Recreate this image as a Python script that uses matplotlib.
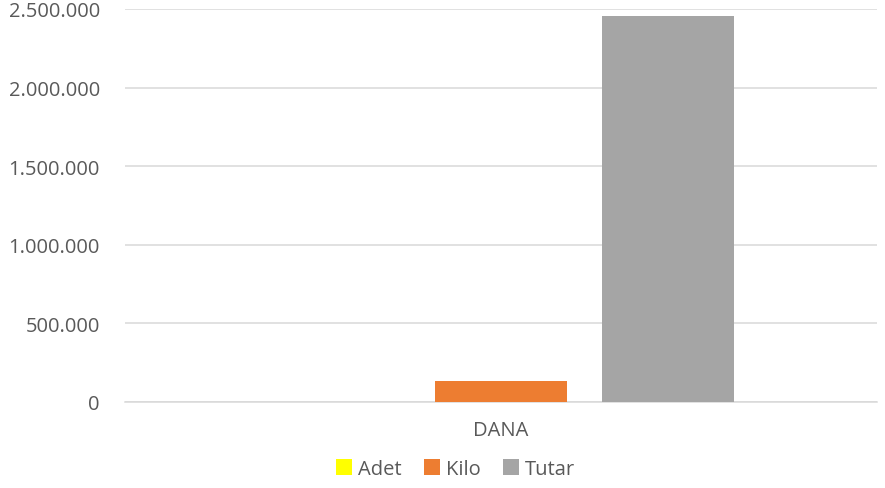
import matplotlib.pyplot as plt
from matplotlib.ticker import FuncFormatter
import numpy as np

plt.rcParams['font.family'] = ['Open Sans', 'DejaVu Sans']

categories = ['DANA']
series = ['Adet', 'Kilo', 'Tutar']
values = [1500, 134000, 2455000]
colors = ['#ffff00', '#ed7d31', '#a5a5a5']

fig = plt.figure(figsize=(8.85, 4.89), dpi=100)
ax = fig.add_axes([0.1412, 0.1759, 0.8498, 0.8037])

x = np.arange(len(categories))
w = 0.1755
step = 0.222
for i, (name, v, c) in enumerate(zip(series, values, colors)):
    ax.bar(x + (i - 1) * step, [v], width=w, color=c, label=name, zorder=3)

ax.set_xlim(-0.5, 0.5)
ax.set_ylim(0, 2500000)
ax.set_yticks(np.arange(0, 2500001, 500000))
ax.yaxis.set_major_formatter(FuncFormatter(lambda v, p: f'{int(v):,}'.replace(',', '.')))
ax.set_xticks(x)
ax.set_xticklabels(categories)
ax.grid(axis='y', color='#d9d9d9', linewidth=1.1, zorder=0)
for s in ['top', 'right', 'left']:
    ax.spines[s].set_visible(False)
ax.spines['bottom'].set_color('#d9d9d9')
ax.spines['bottom'].set_linewidth(1.1)
ax.tick_params(axis='both', length=0, labelsize=14.5, colors='#595959')
ax.tick_params(axis='y', pad=18)
ax.tick_params(axis='x', pad=13)

leg = fig.legend(loc='center', bbox_to_anchor=(0.515, 0.039), ncol=3, frameon=False,
                 fontsize=14.5, handlelength=0.8, handleheight=0.8, handletextpad=0.3,
                 columnspacing=1.1)
for t in leg.get_texts():
    t.set_color('#595959')

fig.savefig('out.png', dpi=100)
